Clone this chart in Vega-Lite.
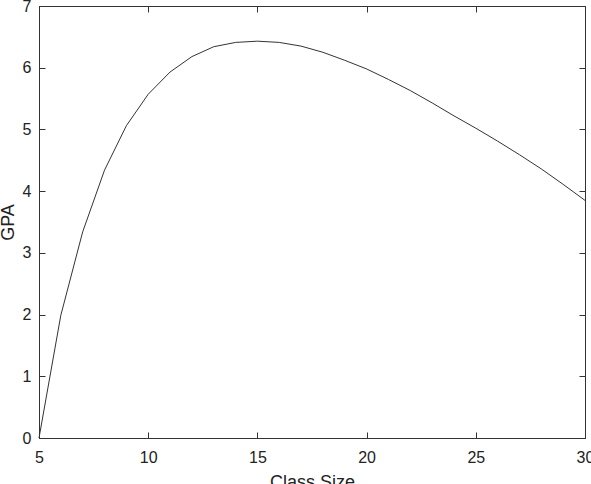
{
  "$schema": "https://vega.github.io/schema/vega-lite/v6.json",
  "width": 546,
  "height": 432,
  "autosize": "none",
  "padding": {"left": 39, "top": 6, "right": 6, "bottom": 46},
  "background": "white",
  "config": {
    "view": {"stroke": "#333333", "strokeWidth": 1},
    "axis": {
      "labelFont": "Liberation Sans",
      "titleFont": "Liberation Sans",
      "labelFontSize": 16,
      "titleFontSize": 18,
      "titleFontWeight": "normal",
      "labelColor": "#222222",
      "titleColor": "#222222",
      "domainColor": "#333333",
      "tickColor": "#333333",
      "tickSize": -6,
      "grid": false
    }
  },
  "data": {
    "values": [
      {"size": 5, "gpa": 0.0},
      {"size": 6, "gpa": 1.99},
      {"size": 7, "gpa": 3.34},
      {"size": 8, "gpa": 4.34},
      {"size": 9, "gpa": 5.06},
      {"size": 10, "gpa": 5.57},
      {"size": 11, "gpa": 5.93},
      {"size": 12, "gpa": 6.18},
      {"size": 13, "gpa": 6.34},
      {"size": 14, "gpa": 6.41},
      {"size": 15, "gpa": 6.43},
      {"size": 16, "gpa": 6.41},
      {"size": 17, "gpa": 6.35},
      {"size": 18, "gpa": 6.25},
      {"size": 19, "gpa": 6.12},
      {"size": 20, "gpa": 5.98},
      {"size": 21, "gpa": 5.81},
      {"size": 22, "gpa": 5.63},
      {"size": 23, "gpa": 5.43},
      {"size": 24, "gpa": 5.22},
      {"size": 25, "gpa": 5.02},
      {"size": 26, "gpa": 4.81},
      {"size": 27, "gpa": 4.59},
      {"size": 28, "gpa": 4.36},
      {"size": 29, "gpa": 4.11},
      {"size": 30, "gpa": 3.85}
    ]
  },
  "layer": [
    {
      "mark": {"type": "line", "color": "#333333", "strokeWidth": 1},
      "encoding": {
        "x": {"field": "size", "type": "quantitative", "scale": {"domain": [5, 30], "nice": false}, "axis": {"title": "Class Size", "values": [5, 10, 15, 20, 25, 30], "labelPadding": 17, "titlePadding": 8, "labelFlush": false, "labelOverlap": false}},
        "y": {"field": "gpa", "type": "quantitative", "scale": {"domain": [0, 7], "nice": false, "zero": false}, "axis": {"title": "GPA", "values": [0, 1, 2, 3, 4, 5, 6, 7], "labelPadding": 14, "titlePadding": 5, "labelFlush": false, "labelOverlap": false}}
      }
    },
    {
      "mark": {"type": "line", "opacity": 0},
      "encoding": {
        "x": {"field": "size", "type": "quantitative", "axis": {"orient": "top", "title": null, "labels": false, "values": [5, 10, 15, 20, 25, 30]}},
        "y": {"field": "gpa", "type": "quantitative", "axis": {"orient": "right", "title": null, "labels": false, "values": [0, 1, 2, 3, 4, 5, 6, 7]}}
      }
    }
  ],
  "resolve": {"axis": {"x": "independent", "y": "independent"}}
}
